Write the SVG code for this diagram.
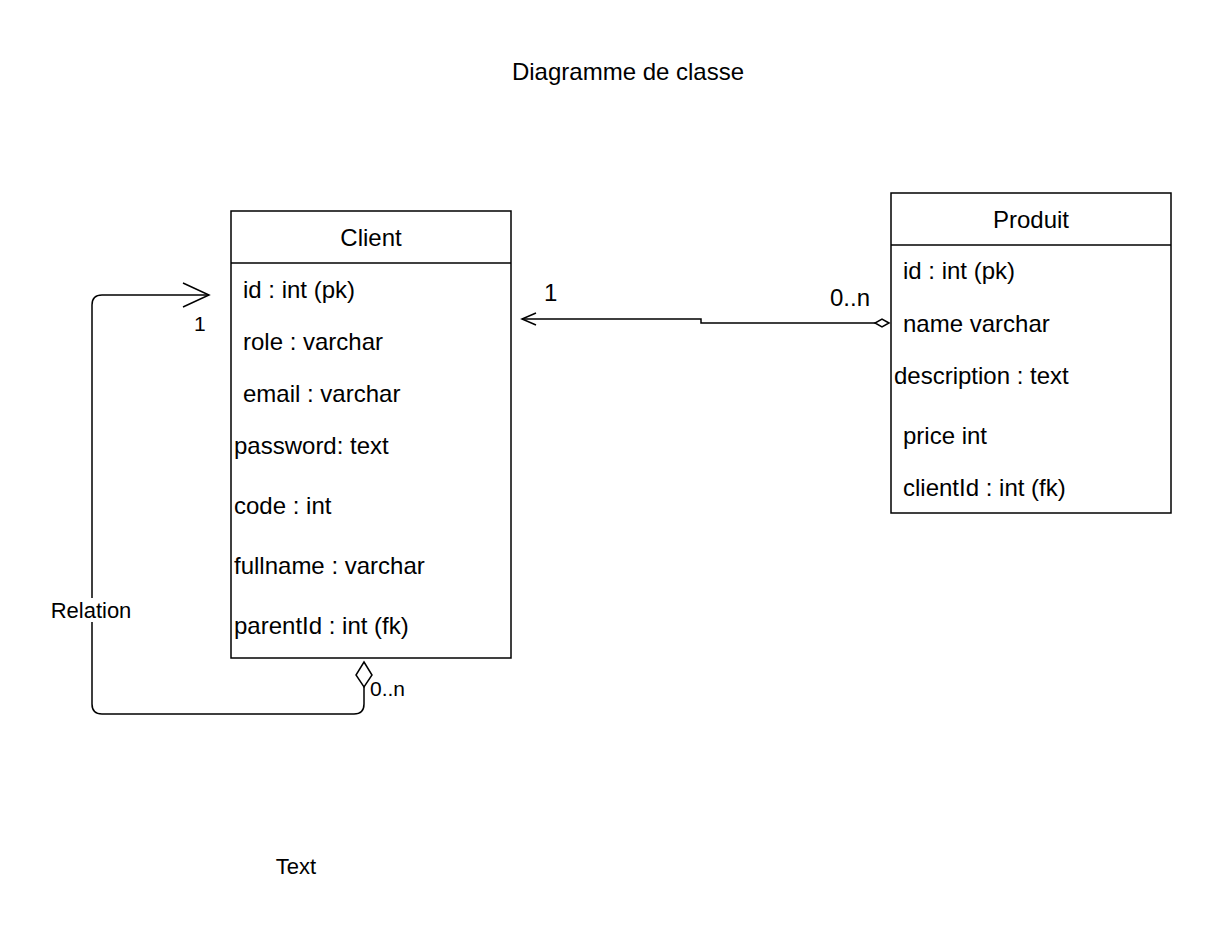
<svg xmlns="http://www.w3.org/2000/svg" width="1222" height="936" viewBox="0 0 1222 936">
<style>
text{font-family:"Liberation Sans",Arial,Helvetica,sans-serif;fill:#000;}
.f{font-size:24px;}
.s{font-size:21px;}
.m{font-size:22px;}
.box{fill:#fff;stroke:#000;stroke-width:1.5;}
.ln{fill:none;stroke:#000;stroke-width:1.5;}
.mid{text-anchor:middle;}
</style>
<rect width="1222" height="936" fill="#fff"/>
<text class="f mid" x="628" y="80">Diagramme de classe</text>
<g id="client">
<rect class="box" x="231" y="211" width="280" height="447"/>
<line class="ln" x1="231" y1="263" x2="511" y2="263"/>
<text class="f mid" x="371" y="246">Client</text>
<text class="f" x="243" y="298">id : int (pk)</text>
<text class="f" x="243" y="350">role : varchar</text>
<text class="f" x="243" y="402">email : varchar</text>
<text class="f" x="234" y="454">password: text</text>
<text class="f" x="234" y="514">code : int</text>
<text class="f" x="234" y="574">fullname : varchar</text>
<text class="f" x="234" y="634">parentId : int (fk)</text>
</g>
<g id="produit">
<rect class="box" x="891" y="193" width="280" height="320"/>
<line class="ln" x1="891" y1="245" x2="1171" y2="245"/>
<text class="f mid" x="1031" y="228">Produit</text>
<text class="f" x="903" y="279">id : int (pk)</text>
<text class="f" x="903" y="332">name varchar</text>
<text class="f" x="894" y="384">description : text</text>
<text class="f" x="903" y="444">price int</text>
<text class="f" x="903" y="496">clientId : int (fk)</text>
</g>
<g id="connectors">
<path class="ln" d="M875,323 L701,323 L701,319 L522,319"/>
<path class="ln" d="M536,313 L522,319 L536,325"/>
<path class="ln" d="M889,323 L882,319 L875,323 L882,327 Z" style="fill:#fff"/>
<path class="ln" d="M364,687 L364,704 Q364,714 354,714 L102,714 Q92,714 92,704 L92,305 Q92,295 102,295 L209,295"/>
<path class="ln" d="M183,283 L209,295 L183,307"/>
<path class="ln" d="M364,662 L372,675 L364,687 L356,675 Z" style="fill:#fff"/>
<rect x="49" y="598" width="84" height="24" fill="#fff"/>
<text class="m mid" x="91" y="618">Relation</text>
<text class="s" x="194" y="331">1</text>
<text class="s" x="370" y="696">0..n</text>
<text class="f" x="544" y="301">1</text>
<text class="f" x="830" y="306">0..n</text>
</g>
<text class="m mid" x="296" y="874">Text</text>
</svg>
